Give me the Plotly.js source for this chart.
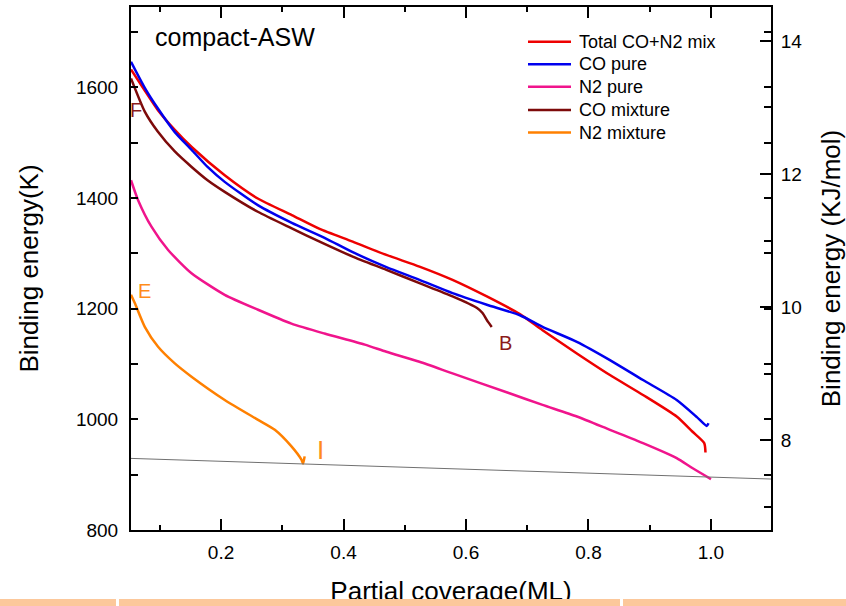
<!DOCTYPE html>
<html>
<head>
<meta charset="utf-8">
<script src="https://cdn.plot.ly/plotly-3.0.1.min.js"></script>
<style>
  html, body { margin: 0; padding: 0; background: white; }
  #wrap { position: relative; width: 846px; height: 606px; overflow: hidden; }
  #plot { position: absolute; left: 0; top: 0; width: 846px; height: 606px; }
  #bar { position: absolute; left: 0; top: 599px; width: 846px; height: 7px; background: #FCC89B; }
  .gap { position: absolute; top: 0; width: 3px; height: 7px; background: white; }
</style>
</head>
<body>
<div id="wrap">
  <div id="plot"></div>
  <div id="bar"><div class="gap" style="left:116px"></div><div class="gap" style="left:620px"></div></div>
</div>
<script>
// Total CO+N2 mix
const totalX = [0.053, 0.0755, 0.0967, 0.1245, 0.152, 0.206, 0.26, 0.3155, 0.361, 0.415, 0.47, 0.524, 0.578, 0.634, 0.688, 0.725, 0.781, 0.835, 0.889, 0.944, 0.9695, 0.989, 0.991];
const totalY = [1632, 1594, 1559, 1523, 1492, 1441, 1399, 1369, 1344, 1321, 1297, 1276, 1252, 1222, 1190, 1161, 1119, 1080, 1044, 1005, 978, 957, 940];
// CO pure
const coPureX = [0.053, 0.0755, 0.0967, 0.1245, 0.152, 0.178, 0.206, 0.26, 0.3155, 0.369, 0.415, 0.47, 0.524, 0.578, 0.634, 0.688, 0.725, 0.781, 0.835, 0.889, 0.944, 0.977, 0.993, 0.996];
const coPureY = [1646, 1599, 1562, 1519, 1487, 1456, 1429, 1387, 1355, 1328, 1302, 1275, 1252, 1228, 1207, 1188, 1167, 1140, 1107, 1071, 1035, 1004, 988, 993];
// N2 pure
const n2PureX = [0.053, 0.0646, 0.0864, 0.1136, 0.1518, 0.206, 0.2605, 0.315, 0.369, 0.4347, 0.47, 0.524, 0.578, 0.671, 0.725, 0.781, 0.835, 0.889, 0.944, 0.9695, 1.0];
const n2PureY = [1432, 1396, 1348, 1306, 1264, 1225, 1198, 1173, 1155, 1135, 1122, 1104, 1083, 1047, 1026, 1005, 981, 957, 930, 912, 892];
// CO mixture
const coMixX = [0.053, 0.0755, 0.0967, 0.1245, 0.152, 0.178, 0.206, 0.26, 0.3155, 0.361, 0.415, 0.47, 0.524, 0.578, 0.618, 0.627, 0.636, 0.642];
const coMixY = [1616, 1556, 1520, 1484, 1456, 1432, 1411, 1375, 1345, 1321, 1294, 1270, 1246, 1222, 1201, 1192, 1176, 1167];
// N2 mixture
const n2MixX = [0.053, 0.0592, 0.0755, 0.0972, 0.1245, 0.1518, 0.206, 0.2605, 0.2878, 0.315, 0.3313, 0.334, 0.3365];
const n2MixY = [1225, 1210, 1167, 1131, 1101, 1077, 1035, 999, 981, 951, 927, 920, 933];
// thin reference line
const refX = [0.035, 1.1];
const refY = [930, 892];

const seriesNames = ['Total CO+N2 mix', 'CO pure', 'N2 pure', 'CO mixture', 'N2 mixture'];
const seriesColors = ['#ee0000', '#0000ee', '#f0148c', '#7d0a0a', '#ff8000'];
const seriesX = [totalX, coPureX, n2PureX, coMixX, n2MixX];
const seriesY = [totalY, coPureY, n2PureY, coMixY, n2MixY];

const K_PER_KJ = 120.27;
const yRangeK = [800, 1745];

// plot-area geometry (pixels) used only to place the hand-made legend
const M = {l: 131, r: 75, t: 7, b: 76};
const PW = 846 - M.l - M.r, PH = 606 - M.t - M.b;
const px = v => (v - M.l) / PW;
const py = v => 1 - (v - M.t) / PH;

const traces = seriesNames.map((n, i) => ({
  type: 'scatter', mode: 'lines', name: n, showlegend: false,
  x: seriesX[i], y: seriesY[i],
  line: {color: seriesColors[i], width: 2.5, shape: 'spline', smoothing: 0.6},
  hoverinfo: 'skip'
}));
traces.push({
  type: 'scatter', mode: 'lines', x: refX, y: refY, showlegend: false,
  line: {color: '#707070', width: 1}, hoverinfo: 'skip'
});
traces.push({type: 'scatter', mode: 'lines', x: [], y: [], yaxis: 'y2', showlegend: false, hoverinfo: 'skip'});

// legend drawn as shapes + annotations
const legendRowY = [41.7, 64.3, 86.7, 110, 132.5];
const legendShapes = seriesNames.map((n, i) => ({
  type: 'line', xref: 'paper', yref: 'paper',
  x0: px(528), x1: px(571), y0: py(legendRowY[i]), y1: py(legendRowY[i]),
  line: {color: seriesColors[i], width: 2.5}
}));
const legendText = seriesNames.map((n, i) => ({
  xref: 'paper', yref: 'paper', x: px(577), y: py(legendRowY[i]),
  xanchor: 'left', yanchor: 'middle', text: n, showarrow: false, font: {size: 18}
}));

const axisCommon = {
  showgrid: false, zeroline: false, showline: true, linewidth: 2, linecolor: 'black',
  ticks: 'inside', tickwidth: 2, tickcolor: 'black'
};

const layout = {
  width: 846, height: 606,
  margin: {l: M.l, r: M.r, t: M.t, b: M.b, pad: 0},
  paper_bgcolor: 'white', plot_bgcolor: 'white',
  font: {family: 'Liberation Sans, Arial, sans-serif', color: 'black', size: 19},
  showlegend: false,
  xaxis: Object.assign({}, axisCommon, {
    range: [0.053, 1.098], mirror: 'ticks', ticklen: 11, dtick: 0.2, tick0: 0, tickformat: '.1f',
    ticklabelstandoff: 4,
    minor: {dtick: 0.1, tick0: 0, ticks: 'inside', ticklen: 5, tickwidth: 2, tickcolor: 'black'},
    title: {text: 'Partial coverage(ML)', font: {size: 26}, standoff: 24}
  }),
  yaxis: Object.assign({}, axisCommon, {
    range: yRangeK, mirror: 'ticks', ticklen: 7, dtick: 200, tick0: 0, ticklabelstandoff: 7,
    minor: {dtick: 100, tick0: 0, ticks: 'inside', ticklen: 7, tickwidth: 2, tickcolor: 'black'},
    title: {text: 'Binding energy(K)', font: {size: 26}, standoff: 30}
  }),
  yaxis2: Object.assign({}, axisCommon, {
    overlaying: 'y', side: 'right', anchor: 'x',
    range: [yRangeK[0] / K_PER_KJ, yRangeK[1] / K_PER_KJ], ticklen: 11, dtick: 2, tick0: 0,
    ticklabelstandoff: 4,
    minor: {dtick: 1, tick0: 0, ticks: 'inside', ticklen: 7, tickwidth: 2, tickcolor: 'black'},
    title: {text: 'Binding energy (KJ/mol)', font: {size: 26}}
  }),
  shapes: legendShapes,
  annotations: [
    {x: 0.0889, y: 1691, xref: 'x', yref: 'y', text: 'compact-ASW', showarrow: false, xanchor: 'left', yanchor: 'middle', font: {size: 25}},
    {x: 0.061, y: 1559, xref: 'x', yref: 'y', text: 'F', showarrow: false, font: {size: 20, color: '#8b1a1a'}},
    {x: 0.664, y: 1138, xref: 'x', yref: 'y', text: 'B', showarrow: false, font: {size: 20, color: '#8b1a1a'}},
    {x: 0.075, y: 1232, xref: 'x', yref: 'y', text: 'E', showarrow: false, font: {size: 20, color: '#ff8c1a'}},
    {x: 0.3616, y: 945, xref: 'x', yref: 'y', text: 'I', showarrow: false, font: {size: 26, color: '#ff8c1a'}}
  ].concat(legendText)
};

Plotly.newPlot('plot', traces, layout, {displayModeBar: false, staticPlot: true});
</script>
</body>
</html>
